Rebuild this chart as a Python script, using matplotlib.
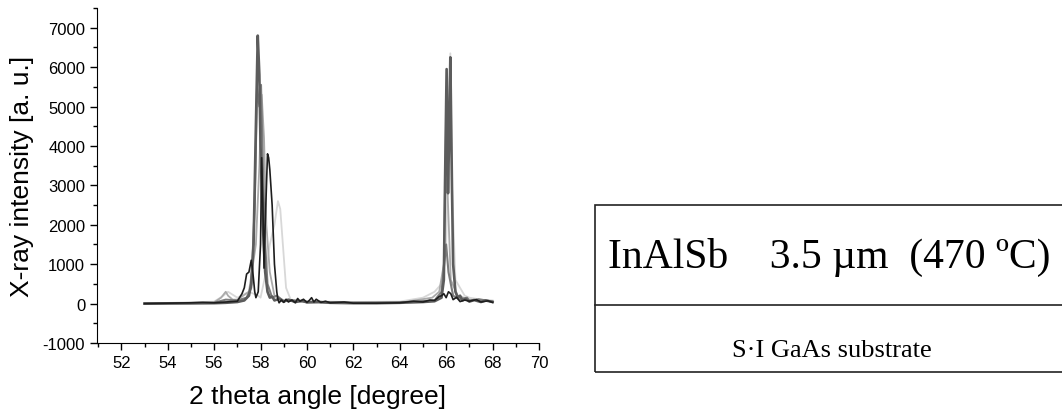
import matplotlib.pyplot as plt
from matplotlib.ticker import MultipleLocator
from matplotlib.patches import Rectangle
from matplotlib.lines import Line2D

plt.rcParams['axes.unicode_minus'] = False

# XRD scans (2 theta [deg], intensity [a.u.])
x_black = [53.0, 54.0, 55.0, 55.5, 56.0, 56.5, 57.0, 57.2, 57.3, 57.4, 57.5, 57.6, 57.65, 57.7,
           57.75, 57.8, 57.9, 58.0, 58.05, 58.1, 58.15, 58.2, 58.3, 58.35, 58.4, 58.5, 58.6,
           58.7, 58.75, 58.8, 58.9, 59.0, 59.1, 59.2, 59.35, 59.5, 59.6, 59.7, 59.85, 60.0,
           60.1, 60.2, 60.3, 60.4, 60.6, 60.8, 61.0, 61.6, 62.0, 63.0, 64.0, 64.6, 65.0,
           65.3, 65.5, 65.7, 65.8, 65.9, 66.0, 66.1, 66.2, 66.3, 66.45, 66.6, 66.8, 67.0,
           67.3, 67.5, 67.8, 68.0]
y_black = [0, 10, 20, 30, 20, 40, 60, 250, 400, 750, 800, 1100, 900, 600,
           300, 150, 300, 1500, 3700, 2500, 900, 2000, 3800, 3700, 3400, 2500, 1000,
           300, 100, 20, 90, 30, 110, 40, 90, 20, 130, 60, 110, 30,
           80, 150, 40, 110, 30, 60, 20, 40, 10, 10, 20, 60, 40,
           90, 80, 180, 200, 250, 150, 300, 250, 100, 160, 50, 90, 60,
           100, 40, 70, 30]

x_dark = [53.0, 55.0, 56.0, 56.5, 57.0, 57.3, 57.5, 57.6, 57.7, 57.8, 57.88, 57.95, 58.0,
          58.1, 58.2, 58.3, 58.4, 58.5, 58.6, 58.8, 59.0, 59.2, 59.5, 59.8, 60.0, 60.5,
          61.0, 62.0, 63.0, 64.0, 65.0, 65.5, 65.8, 65.9, 65.95, 66.02, 66.08, 66.12,
          66.18, 66.25, 66.3, 66.4, 66.5, 66.6, 66.7, 66.85, 67.0, 67.2, 67.5, 67.7, 68.0]
y_dark = [0, 5, 10, 20, 40, 80, 200, 500, 1500, 4500, 6800, 5800, 4000,
          2000, 800, 300, 150, 180, 80, 120, 50, 100, 40, 70, 30, 40,
          20, 10, 10, 20, 40, 60, 150, 600, 3000, 5950, 2800, 4000,
          6250, 3000, 1000, 300, 150, 200, 80, 120, 50, 90, 40, 80, 40]

x_mid = [53.0, 56.0, 56.5, 57.0, 57.4, 57.6, 57.75, 57.85, 57.95, 58.02, 58.1, 58.2, 58.3,
         58.5, 58.7, 59.0, 59.3, 60.0, 62.0, 64.0, 65.5, 65.8, 66.0, 66.1, 66.3, 66.6,
         66.9, 67.0, 67.4, 68.0]
y_mid = [0, 20, 100, 80, 150, 400, 2500, 5500, 5000, 5550, 3500, 1500, 500,
         150, 200, 60, 90, 40, 20, 30, 80, 300, 1500, 800, 200, 100,
         150, 70, 110, 50]

x_light = [53.0, 56.0, 56.3, 56.5, 56.6, 56.8, 57.0, 57.5, 57.8, 57.95, 58.05, 58.15, 58.25,
           58.4, 58.6, 59.0, 60.0, 62.0, 64.0, 65.4, 65.7, 65.9, 66.0, 66.05, 66.2, 66.5,
           67.0, 68.0]
y_light = [0, 30, 150, 300, 200, 100, 100, 300, 1500, 3500, 5300, 4200, 2000,
           800, 200, 80, 50, 30, 20, 150, 300, 1000, 4900, 3000, 600, 200,
           100, 60]

x_pale = [53.0, 56.0, 56.4, 56.6, 57.0, 57.5, 57.9, 58.0, 58.2, 58.4, 58.6, 58.75, 58.85,
          59.0, 59.1, 59.3, 60.0, 62.0, 64.0, 65.0, 65.5, 65.8, 66.0, 66.1, 66.18, 66.25,
          66.4, 66.6, 66.8, 67.0, 67.5, 68.0]
y_pale = [0, 50, 200, 300, 150, 300, 200, 150, 700, 1500, 2000, 2600, 2400,
          1200, 400, 100, 60, 40, 50, 150, 300, 500, 1500, 4000, 6350, 3000,
          600, 400, 200, 150, 100, 80]

series = [
    (x_pale, y_pale, '#d8d8d8', 1.3),
    (x_light, y_light, '#aaaaaa', 1.3),
    (x_mid, y_mid, '#7c7c7c', 1.5),
    (x_dark, y_dark, '#5c5c5c', 1.9),
    (x_black, y_black, '#1e1e1e', 1.2),
]

fig = plt.figure(figsize=(10.62, 4.10), dpi=100)
ax = fig.add_axes([0.0913, 0.161, 0.4162, 0.817])

for xs, ys, c, lw in series:
    ax.plot(xs, ys, color=c, linewidth=lw)

ax.set_xlim(50.95, 70)
ax.set_ylim(-1000, 7500)
ax.xaxis.set_major_locator(MultipleLocator(2))
ax.xaxis.set_minor_locator(MultipleLocator(1))
ax.yaxis.set_major_locator(MultipleLocator(1000))
ax.yaxis.set_minor_locator(MultipleLocator(500))
ax.tick_params(which='major', direction='out', length=5, width=1, labelsize=12)
ax.tick_params(which='minor', direction='out', length=3, width=1)
for s in ['top', 'right']:
    ax.spines[s].set_visible(False)
ax.set_xlabel('2 theta angle [degree]', fontsize=19, family='Liberation Sans', labelpad=10)
ax.set_ylabel('X-ray intensity [a. u.]', fontsize=19, family='Liberation Sans', labelpad=6)
for lab in ax.get_xticklabels() + ax.get_yticklabels():
    lab.set_family('Liberation Sans')

# layer structure sketch
fig.patches.append(Rectangle((0.560, 0.090), 0.46, 0.408, transform=fig.transFigure,
                             fill=False, edgecolor='#222222', linewidth=1.2))
fig.lines.append(Line2D([0.560, 1.01], [0.254, 0.254], transform=fig.transFigure,
                        color='#222222', linewidth=1.2))
fig.text(0.5725, 0.372, 'InAlSb    3.5 \u00b5m  (470 \u00baC)', family='Liberation Serif',
         fontsize=30, ha='left', va='center')
fig.text(0.783, 0.145, 'S\u00b7I GaAs substrate', family='Liberation Serif',
         fontsize=19, ha='center', va='center')

plt.savefig('out.png', dpi=100)
